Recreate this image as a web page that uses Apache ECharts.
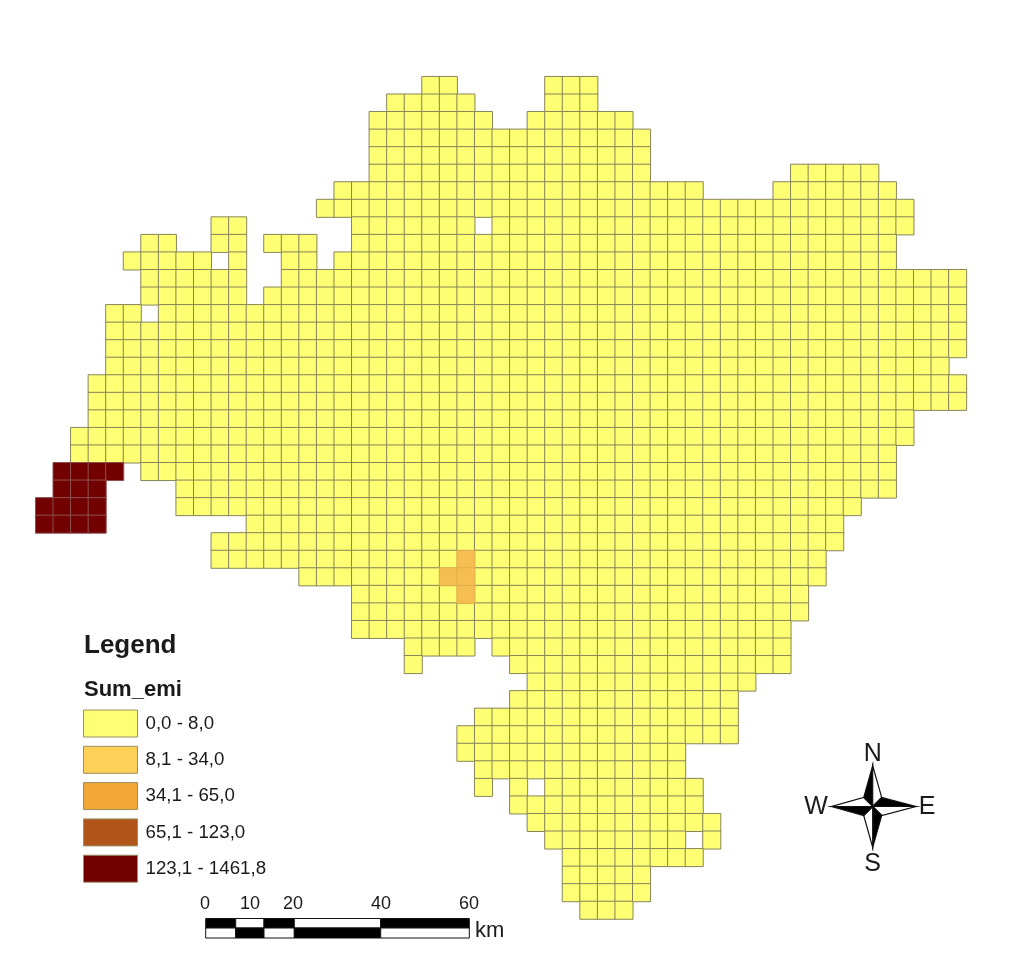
<!DOCTYPE html>
<html>
<head>
<meta charset="utf-8">
<style>
  html, body { margin: 0; padding: 0; background: #fff; }
  #chart { width: 1024px; height: 955px; }
</style>
<script src="https://cdn.jsdelivr.net/npm/echarts@6/dist/echarts.min.js"></script>
</head>
<body>
<div id="chart"></div>
<script>
// grid size of the emission map
const colCount = 53;
const rowCount = 48;

const classLabels = ['0,0 - 8,0', '8,1 - 34,0', '34,1 - 65,0', '65,1 - 123,0', '123,1 - 1461,8'];
const classColors = ['#FFFF73', '#F6BE50', '#F2A835', '#B0561A', '#730000'];
const swatchColors = ['#FFFF73', '#FDD057', '#F2A835', '#B0561A', '#730000'];
const classBorders = ['#85855a', '#e0ae4c', '#85855a', '#85855a', '#8c5050'];

// covered cells, per row from the top: [first column, last column]
const coveredSpans = [
  [[22, 23], [29, 31]],
  [[20, 24], [29, 31]],
  [[19, 25], [28, 33]],
  [[19, 34]],
  [[19, 34]],
  [[19, 34], [43, 47]],
  [[17, 37], [42, 48]],
  [[16, 49]],
  [[10, 11], [18, 24], [26, 49]],
  [[6, 7], [10, 11], [13, 15], [18, 48]],
  [[5, 9], [11, 11], [14, 15], [17, 48]],
  [[6, 11], [14, 52]],
  [[6, 11], [13, 52]],
  [[4, 5], [7, 52]],
  [[4, 52]],
  [[4, 52]],
  [[4, 51]],
  [[3, 52]],
  [[3, 52]],
  [[3, 49]],
  [[2, 49]],
  [[2, 48]],
  [[6, 48]],
  [[8, 48]],
  [[8, 46]],
  [[12, 45]],
  [[10, 45]],
  [[10, 44]],
  [[15, 44]],
  [[18, 43]],
  [[18, 43]],
  [[18, 42]],
  [[21, 24], [26, 42]],
  [[21, 21], [27, 42]],
  [[28, 40]],
  [[27, 39]],
  [[25, 39]],
  [[24, 39]],
  [[24, 36]],
  [[25, 36]],
  [[25, 25], [27, 27], [29, 37]],
  [[27, 37]],
  [[28, 38]],
  [[29, 36], [38, 38]],
  [[30, 37]],
  [[30, 34]],
  [[30, 34]],
  [[31, 33]]
];

// cells above the lowest class: [column, row]
const class1Cells = [[24, 27], [23, 28], [24, 28], [24, 29]];
const class4Cells = [
  [1, 22], [2, 22], [3, 22], [4, 22],
  [1, 23], [2, 23], [3, 23],
  [0, 24], [1, 24], [2, 24], [3, 24],
  [0, 25], [1, 25], [2, 25], [3, 25]
];

const scaleTicks = [0, 10, 20, 40, 60];

const colNames = [];
for (let c = 0; c < colCount; c++) colNames.push(String(c));
const rowNames = [];
for (let r = 0; r < rowCount; r++) rowNames.push(String(r));

function cellKey(c) {
  return c[0] + '_' + c[1];
}

const raised = {};
class1Cells.concat(class4Cells).forEach(function (c) {
  raised[cellKey(c)] = true;
});

const class0Cells = [];
coveredSpans.forEach(function (spans, row) {
  spans.forEach(function (span) {
    for (let col = span[0]; col <= span[1]; col++) {
      if (!raised[cellKey([col, row])]) class0Cells.push([col, row]);
    }
  });
});

const classCells = [class0Cells, class1Cells, [], [], class4Cells];

const fontName = '"Liberation Sans", Arial, sans-serif';
const ink = '#1a1a1a';

function label(x, y, text, size, weight, align) {
  return {
    type: 'text',
    x: x,
    y: y,
    style: {
      text: text,
      font: (weight || 'normal') + ' ' + size + 'px ' + fontName,
      fill: ink,
      textAlign: align || 'center',
      textVerticalAlign: 'middle'
    }
  };
}

function bar(x1, x2, y, h, color) {
  return {
    type: 'rect',
    shape: { x: x1, y: y, width: x2 - x1, height: h },
    style: { fill: color, stroke: '#111', lineWidth: 1 }
  };
}

function arm(points, color) {
  return {
    type: 'polygon',
    shape: { points: points },
    style: { fill: color, stroke: '#111', lineWidth: 1.2, lineJoin: 'miter' }
  };
}

// scale bar, segment ends in pixels
const scaleX = [205.7, 235.7, 264, 294.3, 380.7, 469.3];
const scaleTickX = [205, 250, 293, 381, 469];
const graphics = [
  label(84, 646, 'Legend', 26, 'bold', 'left'),
  label(84, 690, 'Sum_emi', 22, 'bold', 'left'),
  label(475, 931, 'km', 22, 'normal', 'left')
];
scaleTicks.forEach(function (t, i) {
  graphics.push(label(scaleTickX[i], 904, String(t), 18));
});
for (let i = 0; i < scaleX.length - 1; i++) {
  const even = i % 2 === 0;
  graphics.push(bar(scaleX[i], scaleX[i + 1], 918.5, 9.5, even ? '#000' : '#fff'));
  graphics.push(bar(scaleX[i], scaleX[i + 1], 928, 10, even ? '#fff' : '#000'));
}

// north arrow
const cx = 872.7;
const cy = 806.5;
const tip = 41;
const neck = 9;
graphics.push(
  arm([[cx, cy - tip], [cx, cy], [cx - neck, cy - neck]], '#000'),
  arm([[cx, cy - tip], [cx, cy], [cx + neck, cy - neck]], '#fff'),
  arm([[cx + tip + 2, cy], [cx, cy], [cx + neck, cy - neck]], '#000'),
  arm([[cx + tip + 2, cy], [cx, cy], [cx + neck, cy + neck]], '#fff'),
  arm([[cx, cy + tip], [cx, cy], [cx + neck, cy + neck]], '#000'),
  arm([[cx, cy + tip], [cx, cy], [cx - neck, cy + neck]], '#fff'),
  arm([[cx - tip, cy], [cx, cy], [cx - neck, cy + neck]], '#000'),
  arm([[cx - tip, cy], [cx, cy], [cx - neck, cy - neck]], '#fff'),
  label(cx, 754, 'N', 25),
  label(cx, 864, 'S', 25),
  label(816, 807, 'W', 25),
  label(927, 807, 'E', 25)
);

const chart = echarts.init(document.getElementById('chart'));
chart.setOption({
  animation: false,
  backgroundColor: '#fff',
  grid: { left: 35.7, top: 76.7, width: 930.7, height: 842.3 },
  xAxis: { type: 'category', data: colNames, show: false },
  yAxis: { type: 'category', data: rowNames, inverse: true, show: false },
  legend: {
    orient: 'vertical',
    left: 83,
    top: 709.5,
    padding: 0,
    itemWidth: 54,
    itemHeight: 27,
    itemGap: 8.3,
    icon: 'rect',
    selectedMode: false,
    data: classLabels.map(function (name, i) {
      return {
        name: name,
        itemStyle: { color: swatchColors[i], borderColor: '#9a8f66', borderWidth: 1, opacity: 1 }
      };
    }),
    textStyle: { fontFamily: fontName, fontSize: 18.7, color: ink, padding: [0, 0, 0, 3] }
  },
  graphic: { elements: graphics },
  series: classLabels.map(function (name, i) {
    return {
      name: name,
      type: 'heatmap',
      data: classCells[i].map(function (c) {
        return [c[0], c[1], i];
      }),
      itemStyle: { color: classColors[i], borderColor: classBorders[i], borderWidth: 1 },
      emphasis: { disabled: true },
      progressive: 0
    };
  })
});
</script>
</body>
</html>
